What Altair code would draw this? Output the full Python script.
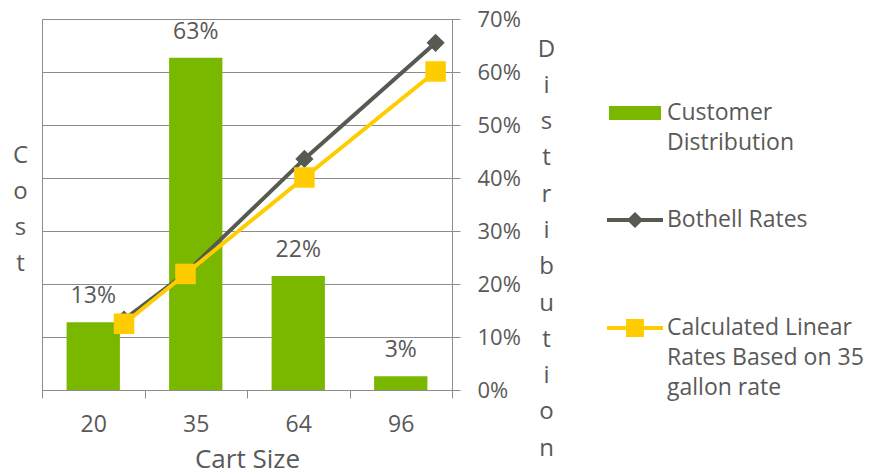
import altair as alt
import pandas as pd

# ---- data ----
cart_sizes = ["20", "35", "64", "96"]
cart_gallons = [20, 35, 64, 96]
distribution = [0.128, 0.627, 0.215, 0.026]
dist_labels = ["13%", "63%", "22%", "3%"]
bothell_rates = [13.3, 22.0, 43.6, 65.5]
linear_rates = [12.5, 21.9, 40.1, 60.1]
pct_ticks = [0, 0.1, 0.2, 0.3, 0.4, 0.5, 0.6, 0.7]
cost_ticks = [0, 10, 20, 30, 40, 50, 60, 70]

FONT = "Open Sans"
TXT = "#595959"
AX = "#8C8C8C"
GREEN = "#7AB800"
DARK = "#575A50"
YEL = "#FFCC00"

bar_df = pd.DataFrame({"size": cart_sizes, "dist": distribution,
                       "label": dist_labels, "series": "Customer Distribution"})
both_df = pd.DataFrame({"gal": cart_gallons, "cost": bothell_rates,
                        "series": "Bothell Rates"})
lin_df = pd.DataFrame({"gal": cart_gallons, "cost": linear_rates,
                       "series": "Calculated Linear Rates Based on 35 gallon rate"})

xband = alt.Scale(domain=cart_sizes, paddingInner=0, paddingOuter=0)
ypct = alt.Scale(domain=[0, 0.7], nice=False, zero=True)
xq = alt.Scale(domain=[0, 100], nice=False, zero=True)
ycost = alt.Scale(domain=[0, 70], nice=False, zero=True)

LEG = dict(orient="none", title=None, padding=0, labelFont=FONT, labelFontSize=23,
           labelColor=TXT, labelBaseline="middle", labelLimit=400)

bars = alt.Chart(bar_df).mark_bar(color=GREEN, width=alt.RelativeBandSize(0.52)).encode(
    x=alt.X("size:N", scale=xband, sort=cart_sizes,
            axis=alt.Axis(title="Cart Size", labelAngle=0, tickBand="extent", tickSize=8,
                          tickColor=AX, domainColor=AX, labelPadding=15,
                          labelFont=FONT, labelFontSize=23, labelColor=TXT,
                          titleFont=FONT, titleFontSize=26, titleFontWeight="normal",
                          titleColor=TXT, titleBaseline="alphabetic", titleY=77)),
    y=alt.Y("dist:Q", scale=ypct,
            axis=alt.Axis(orient="right", values=pct_ticks, format=".0%", grid=False,
                          tickSize=8, tickColor=AX, domainColor=AX, labelPadding=17,
                          labelFont=FONT, labelFontSize=22, labelColor=TXT,
                          title=list("Distribution"), titleAngle=0, titleAlign="center",
                          titleBaseline="alphabetic", titleX=94, titleY=37,
                          titleLineHeight=36.3, titleFont=FONT, titleFontSize=24,
                          titleFontWeight="normal", titleColor=TXT)),
    color=alt.Color("series:N", scale=alt.Scale(range=[GREEN]),
                    legend=alt.Legend(legendX=567, legendY=68,
                                      symbolType="M-1,-0.27H1V0.27H-1Z", symbolSize=2704,
                                      symbolStrokeWidth=0, labelOffset=6,
                                      labelExpr="['Customer', 'Distribution']", **LEG)),
)

labels = alt.Chart(bar_df).mark_text(dy=-26, baseline="middle", font=FONT,
                                     fontSize=23, color=TXT).encode(
    x=alt.X("size:N", scale=xband, sort=cart_sizes, axis=None),
    y=alt.Y("dist:Q", scale=ypct, axis=None),
    text="label:N",
)

both = alt.Chart(both_df).mark_line(
    strokeWidth=4,
    point=alt.OverlayMarkDef(shape="diamond", size=330, filled=True, opacity=1)).encode(
    x=alt.X("gal:Q", scale=xq, axis=None),
    y=alt.Y("cost:Q", scale=ycost,
            axis=alt.Axis(orient="left", values=cost_ticks, labels=False, ticks=False,
                          grid=True, gridColor=AX, gridWidth=1, domainColor=AX,
                          title=["C", "o", "s", "t"], titleAngle=0, titleAlign="center",
                          titleBaseline="alphabetic", titleX=-22, titleY=143,
                          titleLineHeight=36.3, titleFont=FONT, titleFontSize=24,
                          titleFontWeight="normal", titleColor=TXT)),
    color=alt.Color("series:N", scale=alt.Scale(range=[DARK]),
                    legend=alt.Legend(legendX=565, legendY=173,
                                      symbolType="M-1,-0.07H1V0.07H-1ZM0,-0.29L0.29,0L0,0.29L-0.29,0Z",
                                      symbolSize=3136, symbolStrokeWidth=0,
                                      symbolFillColor=DARK, symbolOpacity=1,
                                      labelOffset=4, **LEG)),
)

lin = alt.Chart(lin_df).mark_line(
    strokeWidth=4,
    point=alt.OverlayMarkDef(shape="square", size=420, filled=True, opacity=1)).encode(
    x=alt.X("gal:Q", scale=xq, axis=None),
    y=alt.Y("cost:Q", scale=ycost, axis=None),
    color=alt.Color("series:N", scale=alt.Scale(range=[YEL]),
                    legend=alt.Legend(legendX=565, legendY=281,
                                      symbolType="M-1,-0.07H1V0.07H-1ZM-0.32,-0.32H0.32V0.32H-0.32Z",
                                      symbolSize=3136, symbolStrokeWidth=0,
                                      symbolFillColor=YEL, symbolOpacity=1,
                                      labelOffset=4,
                                      labelExpr="['Calculated Linear', 'Rates Based on 35', 'gallon rate']",
                                      **LEG)),
)

chart = alt.layer(bars, labels, both, lin).resolve_scale(
    x="independent", y="independent", color="independent"
).properties(
    width=410, height=371,
    autosize=alt.AutoSizeParams(type="none"),
    padding={"left": 42, "top": 19, "right": 431, "bottom": 84},
).configure_view(stroke=None).configure(
    style={"guide-label": {"lineHeight": 30}}
)

chart.save("out.html", embed_options={"renderer": "svg", "actions": False})
